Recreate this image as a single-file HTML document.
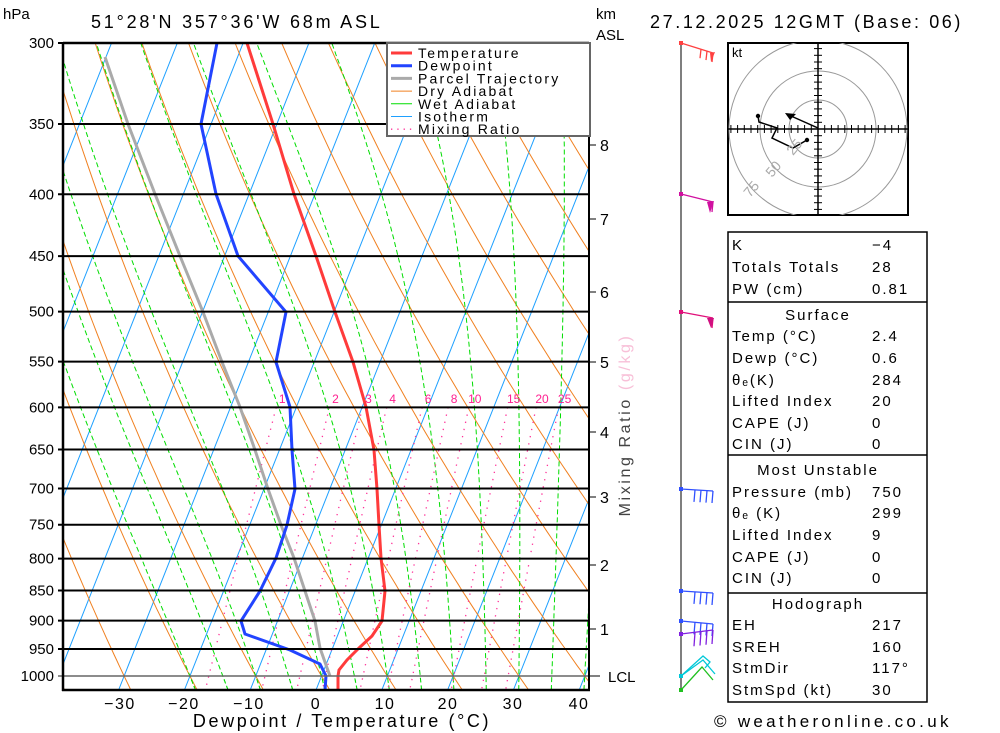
<!DOCTYPE html>
<html><head><meta charset="utf-8">
<style>
html,body{margin:0;padding:0;background:#fff;}
svg{display:block;font-family:"Liberation Sans",sans-serif;}
</style></head>
<body>
<svg id="s" width="1000" height="733" viewBox="0 0 1000 733" xmlns="http://www.w3.org/2000/svg">
<defs><clipPath id="pc"><rect x="63" y="43" width="526" height="647"/></clipPath>
<clipPath id="hc"><rect x="728" y="43" width="180" height="172"/></clipPath></defs>
<g id="grid" clip-path="url(#pc)"></g>
<g id="fg"></g>
</svg>
<script>
var NS="http://www.w3.org/2000/svg";
var S=document.getElementById('s'),G=document.getElementById('grid'),F=document.getElementById('fg');
function el(p,t,a,txt){var e=document.createElementNS(NS,t);for(var k in a)e.setAttribute(k,a[k]);if(txt!==undefined)e.textContent=txt;p.appendChild(e);return e;}
var L=Math.log(1000/300);
function Y(p){return 43+Math.log(p/300)/L*633;}
function X(T,p){return 321.5+6.58*T+0.396*(676-Y(p));}
function pl(p,pts,st){return el(p,'polyline',Object.assign({points:pts.map(function(q){return q[0].toFixed(1)+','+q[1].toFixed(1)}).join(' '),fill:'none'},st));}
var Pbot=Math.exp(Math.log(300)+(690-43)/633*L);
for(var T=-140;T<=50;T+=10){pl(G,[[X(T,Pbot),690],[X(T,280),Y(280)]],{stroke:'#1ea0ff','stroke-width':1});}
for(var th=-60;th<=200;th+=10){var pts=[];for(var p=280;p<=Pbot+5;p+=10){var tk=(th+273.15)*Math.pow(p/1000,0.286);pts.push([X(tk-273.15,p),Y(p)]);}pl(G,pts,{stroke:'#f08020','stroke-width':1});}
function es(t){return 6.112*Math.exp(17.67*t/(t+243.5));}
function moist(T0,p0,p1){var pts=[],T=T0,lp=Math.log(p0),le=Math.log(p1),n=200,d=(le-lp)/n;for(var i=0;i<=n;i++){var p=Math.exp(lp);pts.push([X(T,p),Y(p),p,T]);var tk=T+273.15,e=es(T),rs=0.622*e/(p-e);var g=(287*tk+2.5e6*rs)/(1005+2.5e6*2.5e6*rs*0.622/(287*tk*tk));T+=g*d;lp+=d;}return pts;}
for(var tw=-20;tw<=40;tw+=5){var a=moist(tw,1000,290),b=moist(tw,1000,Pbot);pl(G,b.reverse().concat(a).map(function(q){return[q[0],q[1]]}),{stroke:'#00dd00','stroke-width':1,'stroke-dasharray':'5,3'});}
var W=[1,2,3,4,6,8,10,15,20,25];
W.forEach(function(w){var pts=[];for(var p=600;p<=Pbot+5;p+=10){var e=w*p/(622+w),l=Math.log(e/6.112),td=243.5*l/(17.67-l);pts.push([X(td,p),Y(p)]);}pl(G,pts,{stroke:'#ff3399','stroke-width':1.3,'stroke-dasharray':'1.3,6'});
var e=w*600/(622+w),l=Math.log(e/6.112),td=243.5*l/(17.67-l);el(F,'text',{x:X(td,600)+6,y:403,fill:'#ff2090','font-size':12,'text-anchor':'middle'},String(w));});
[300,350,400,450,500,550,600,650,700,750,800,850,900,950,1000].forEach(function(p){var y=Y(p);el(F,'line',{x1:58,x2:589,y1:y,y2:y,stroke:p==1000?'#666':'#000','stroke-width':p==1000?1.5:2});el(F,'text',{x:54,y:y+5,'font-size':15,'text-anchor':'end',fill:'#000'},String(p));});
pl(G,[[105,57],[128,124],[155,194],[180,256],[203,312],[222,362],[240,407],[255,450],[268,489],[281,525],[294,558],[305,591],[315,621],[320,648],[326,665],[330,676]],{stroke:'#aaa','stroke-width':3});
pl(G,[[247,43],[273,124],[294,194],[316,256],[335,312],[353,362],[366,407],[374,450],[377,489],[379,525],[381,558],[385,591],[382,621],[372,636],[359,648],[347,660],[339,670],[338,676],[338,690]],{stroke:'#ff3b3b','stroke-width':3});
pl(G,[[217,43],[201,124],[216,194],[238,256],[286,312],[276,362],[290,407],[292,450],[295,489],[287,525],[276,558],[260,591],[241,621],[245,634],[290,650],[320,664],[326,676],[325,690]],{stroke:'#2244ff','stroke-width':3});
el(F,'line',{x1:63,y1:43,x2:63,y2:691,stroke:'#000','stroke-width':2.5});
el(F,'line',{x1:62,y1:690,x2:590,y2:690,stroke:'#000','stroke-width':2.5});
el(F,'line',{x1:589,y1:43,x2:589,y2:691,stroke:'#000','stroke-width':2});
el(F,'line',{x1:63,y1:43,x2:589,y2:43,stroke:'#000','stroke-width':2.5});
[[-30,120],[-20,184],[-10,249],[0,316],[10,385],[20,448],[30,513],[40,579]].forEach(function(a){el(F,'text',{x:a[1],y:709,'font-size':16,'text-anchor':'middle','letter-spacing':1.5},(a[0]<0?'\u2212':'')+Math.abs(a[0]));});
el(F,'text',{x:342,y:727,'font-size':18,'text-anchor':'middle','letter-spacing':2.6},'Dewpoint / Temperature (\u00B0C)');
el(F,'text',{x:3,y:19,'font-size':15},'hPa');
el(F,'text',{x:91,y:28,'font-size':18,'letter-spacing':2.8},'51\u00B028\'N  357\u00B036\'W  68m  ASL');
el(F,'text',{x:596,y:19,'font-size':15},'km');
el(F,'text',{x:596,y:40,'font-size':15},'ASL');
el(F,'text',{x:650,y:28,'font-size':18,'letter-spacing':2.6},'27.12.2025  12GMT  (Base: 06)');
[[8,145],[7,219],[6,292],[5,362],[4,432],[3,497],[2,565],[1,629]].forEach(function(a){el(F,'line',{x1:589,x2:596,y1:a[1],y2:a[1],stroke:'#000'});el(F,'text',{x:600,y:a[1]+6,'font-size':16},String(a[0]));});
el(F,'line',{x1:589,x2:600,y1:676,y2:676,stroke:'#000'});
el(F,'text',{x:608,y:682,'font-size':15},'LCL');
var mt=el(F,'text',{x:0,y:0,'font-size':16,'text-anchor':'middle',transform:'translate(630,425) rotate(-90)','letter-spacing':2.6});
el(mt,'tspan',{fill:'#444'},'Mixing Ratio ');el(mt,'tspan',{fill:'#f8c0d8'},'(g/kg)');
el(F,'rect',{x:387,y:43,width:203,height:93,fill:'#fff',stroke:'#666','stroke-width':2});
[['Temperature','#ff3b3b',3,''],['Dewpoint','#2244ff',3,''],['Parcel Trajectory','#aaa',3,''],['Dry Adiabat','#f08020',1,''],['Wet Adiabat','#00dd00',1,''],['Isotherm','#1ea0ff',1,''],['Mixing Ratio','#ff3399',1.3,'1.3,5']].forEach(function(a,i){var y=53+i*12.7;el(F,'line',{x1:391,x2:412,y1:y,y2:y,stroke:a[1],'stroke-width':a[2],'stroke-dasharray':a[3]||'none'});el(F,'text',{x:418,y:y+5,'font-size':14,'letter-spacing':2.2},a[0]);});
el(F,'line',{x1:681,y1:43,x2:681,y2:690,stroke:'#555','stroke-width':1.5});
function barb(y,c,n,dy,sty){el(F,'line',{x1:681,y1:y,x2:713,y2:y+dy,stroke:c,'stroke-width':1.3});for(var i=0;i<n;i++){var x=713-i*6,yy=y+dy-i*dy/5.3;el(F,'line',{x1:x,y1:yy,x2:x-1,y2:yy+(sty||12),stroke:c,'stroke-width':1.3});}el(F,'rect',{x:679,y:y-2,width:4,height:4,fill:c});}
barb(43,'#ff4040',3,10,9);el(F,'polygon',{points:'710,53 715,52 711,62',fill:'#ff4040'});
barb(194,'#d010a0',1,8,10);el(F,'polygon',{points:'707,202 714,201 710,213',fill:'#d010a0'});
barb(312,'#e0107a',1,6,10);el(F,'polygon',{points:'707,318 714,318 711,328',fill:'#d01080'});
barb(489,'#3050ff',4,2,12);barb(591,'#3050ff',4,2,12);barb(621,'#3050ff',4,3,12);barb(634,'#8020e0',4,-4,14);
el(F,'polyline',{points:'681,676 703,660 715,674',fill:'none',stroke:'#00c8d8','stroke-width':1.3});
el(F,'polyline',{points:'681,676 703,656 710,662 705,668',fill:'none',stroke:'#00c8d8','stroke-width':1.3});
el(F,'polyline',{points:'681,690 702,667 713,680',fill:'none',stroke:'#20c020','stroke-width':1.3});
el(F,'rect',{x:679,y:674,width:4,height:4,fill:'#00c8d8'});el(F,'rect',{x:679,y:688,width:4,height:4,fill:'#20c020'});
el(F,'rect',{x:728,y:43,width:180,height:172,fill:'#fff',stroke:'#000','stroke-width':2});
var H=el(F,'g',{'clip-path':'url(#hc)'});
[29,58,89].forEach(function(r){el(H,'circle',{cx:818,cy:129,r:r,fill:'none',stroke:'#999','stroke-width':1});});
el(F,'line',{x1:728,x2:908,y1:129,y2:129,stroke:'#000','stroke-width':1.5});el(F,'line',{x1:818,x2:818,y1:43,y2:215,stroke:'#000','stroke-width':1.5});
for(var i=-13;i<=13;i++){if(!i)continue;var d=i*6.7;if(Math.abs(d)<90){el(F,'line',{x1:818+d,x2:818+d,y1:125,y2:133,stroke:'#000'});}if(Math.abs(d)<86){el(F,'line',{x1:814,x2:822,y1:129+d,y2:129+d,stroke:'#000'});}}
el(F,'text',{x:732,y:57,'font-size':13},'kt');
pl(F,[[807,140],[793,148],[772,138],[777,128],[759,122],[758,116]],{stroke:'#000','stroke-width':1.5});
el(F,'circle',{cx:807,cy:140,r:2.2});el(F,'circle',{cx:758,cy:116,r:2.2});
el(F,'line',{x1:818,y1:128,x2:791,y2:116,stroke:'#000','stroke-width':1.5});el(F,'polygon',{points:'785,113 796,114 790,120'});
[['25',798,150],['50',777,172],['75',755,192]].forEach(function(a){el(F,'text',{x:0,y:0,'font-size':14,fill:'#aaa',transform:'translate('+a[1]+','+a[2]+') rotate(-50)','text-anchor':'middle'},a[0]);});
el(F,'rect',{x:728,y:232,width:199,height:470,fill:'none',stroke:'#000','stroke-width':1.5});
[302,455,593].forEach(function(y){el(F,'line',{x1:728,x2:927,y1:y,y2:y,stroke:'#000','stroke-width':1.5});});
var rows=[['K','\u22124',245],['Totals Totals','28',267],['PW (cm)','0.81',289],['*Surface','',315],['Temp (\u00B0C)','2.4',336],['Dewp (\u00B0C)','0.6',358],['\u03B8\u2091(K)','284',380],['Lifted Index','20',401],['CAPE (J)','0',423],['CIN (J)','0',444],['*Most Unstable','',470],['Pressure (mb)','750',492],['\u03B8\u2091 (K)','299',513],['Lifted Index','9',535],['CAPE (J)','0',557],['CIN (J)','0',578],['*Hodograph','',604],['EH','217',625],['SREH','160',647],['StmDir','117\u00B0',668],['StmSpd (kt)','30',690]];
rows.forEach(function(r){if(r[0][0]=='*'){el(F,'text',{x:818,y:r[2]+5,'font-size':15,'text-anchor':'middle','letter-spacing':2},r[0].slice(1));}else{el(F,'text',{x:732,y:r[2]+5,'font-size':15,'letter-spacing':2},r[0]);el(F,'text',{x:872,y:r[2]+5,'font-size':15,'letter-spacing':2},r[1]);}});
el(F,'text',{x:714,y:727,'font-size':17,'letter-spacing':3.3},'\u00A9 weatheronline.co.uk');
</script>
</body></html>
